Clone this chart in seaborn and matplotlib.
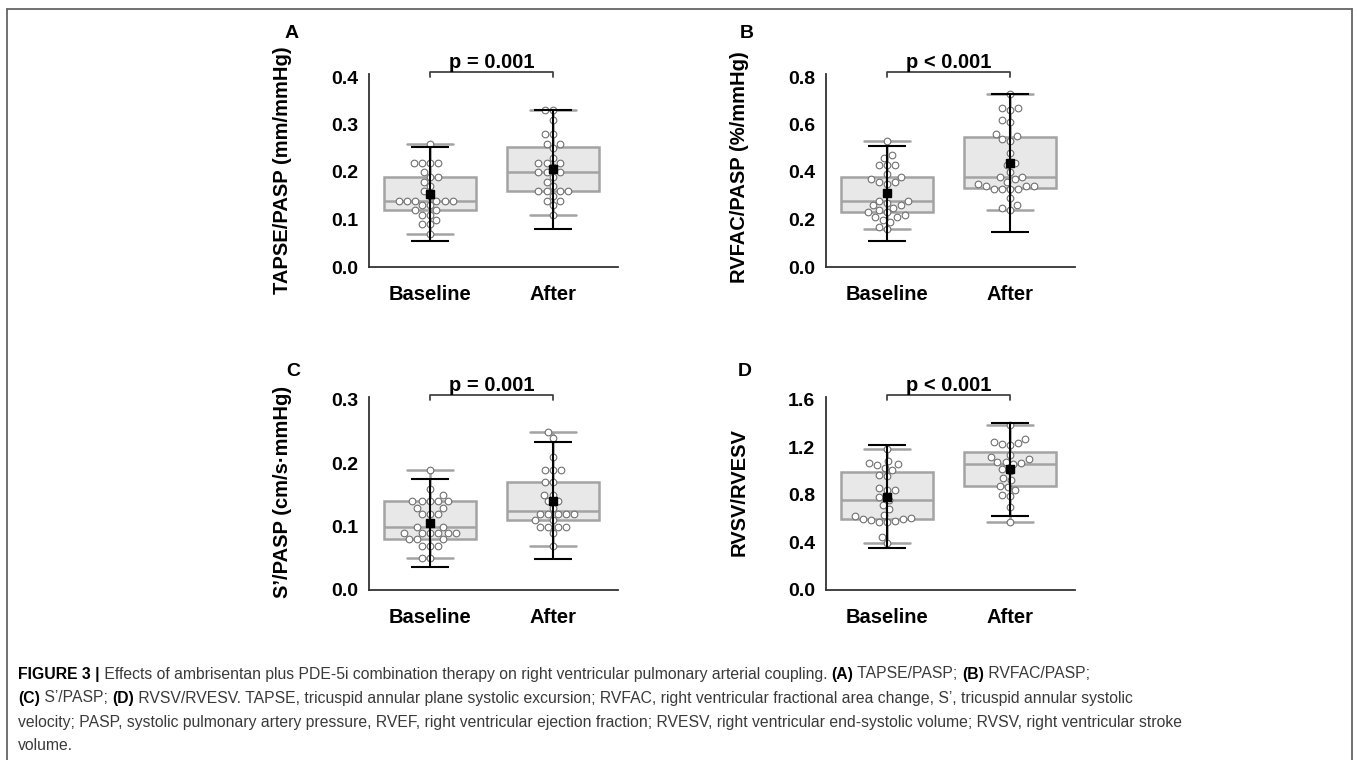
import numpy as np
import pandas as pd
import seaborn as sns
import matplotlib.pyplot as plt
import matplotlib.transforms as mtransforms
from matplotlib.lines import Line2D

sns.set_style('white')
plt.rcParams['font.family'] = ['Liberation Sans', 'DejaVu Sans']
plt.rcParams['text.color'] = 'black'
plt.rcParams['axes.labelcolor'] = 'black'
plt.rcParams['xtick.color'] = 'black'
plt.rcParams['ytick.color'] = 'black'

W, H = 1357, 760
groups = ['Baseline', 'After']

# values
tapse_base = [0.07, 0.09, 0.09, 0.10, 0.11, 0.11, 0.12, 0.12, 0.13, 0.13, 0.14, 0.14, 0.14, 0.14,
              0.14, 0.14, 0.15, 0.16, 0.17, 0.18, 0.19, 0.19, 0.20, 0.22, 0.22, 0.22, 0.22, 0.26]
tapse_after = [0.11, 0.13, 0.14, 0.14, 0.15, 0.16, 0.16, 0.16, 0.16, 0.17, 0.18, 0.19, 0.20, 0.20,
               0.20, 0.21, 0.22, 0.22, 0.22, 0.23, 0.25, 0.26, 0.26, 0.28, 0.28, 0.31, 0.33, 0.33]
tapse_mean = [0.153, 0.206]
tapse_err = [0.099, 0.125]

rvfac_base = [0.16, 0.17, 0.19, 0.20, 0.21, 0.21, 0.22, 0.23, 0.23, 0.24, 0.25, 0.26, 0.26, 0.27, 0.28,
              0.28, 0.31, 0.35, 0.36, 0.36, 0.37, 0.38, 0.39, 0.43, 0.43, 0.43, 0.46, 0.47, 0.53]
rvfac_after = [0.24, 0.25, 0.26, 0.29, 0.33, 0.33, 0.33, 0.33, 0.34, 0.34, 0.34, 0.35, 0.36, 0.37, 0.38,
               0.38, 0.40, 0.43, 0.44, 0.48, 0.53, 0.54, 0.55, 0.56, 0.61, 0.62, 0.66, 0.67, 0.67, 0.73]
rvfac_mean = [0.310, 0.438]
rvfac_err = [0.200, 0.292]

s_base = [0.05, 0.05, 0.07, 0.07, 0.07, 0.08, 0.08, 0.08, 0.09, 0.09, 0.09, 0.09, 0.09, 0.09, 0.10,
          0.10, 0.12, 0.12, 0.12, 0.13, 0.13, 0.14, 0.14, 0.14, 0.14, 0.14, 0.15, 0.16, 0.19]
s_after = [0.07, 0.09, 0.10, 0.10, 0.10, 0.10, 0.11, 0.11, 0.12, 0.12, 0.12, 0.12, 0.12, 0.13,
           0.14, 0.14, 0.15, 0.15, 0.17, 0.17, 0.19, 0.19, 0.19, 0.21, 0.24, 0.25]
s_mean = [0.106, 0.141]
s_err = [0.070, 0.092]

rvsv_base = [0.40, 0.45, 0.57, 0.57, 0.58, 0.59, 0.60, 0.60, 0.61, 0.62, 0.63, 0.68, 0.72, 0.76,
             0.78, 0.84, 0.84, 0.86, 0.96, 0.97, 1.01, 1.03, 1.05, 1.06, 1.07, 1.09, 1.19]
rvsv_after = [0.57, 0.70, 0.79, 0.80, 0.84, 0.87, 0.88, 0.93, 0.94, 1.00, 1.02, 1.06, 1.07, 1.08,
              1.08, 1.10, 1.12, 1.14, 1.22, 1.23, 1.24, 1.25, 1.27, 1.39]
rvsv_mean = [0.786, 1.016]
rvsv_err = [0.433, 0.390]

fig = plt.figure(figsize=(W / 100, H / 100), dpi=100)
fig.patch.set_facecolor('white')


def panel(left_px, zero_px, base, after, means, errs, ymax, yticks, ylabel, lab_y, ptext):
    ax = fig.add_axes([left_px / W, 1 - zero_px / H, 249 / W, 193 / H])
    df = pd.DataFrame({'group': [groups[0]] * len(base) + [groups[1]] * len(after),
                       'value': base + after})
    sns.boxplot(data=df, x='group', y='value', ax=ax, whis=(0, 100), width=0.75,
                color='#e8e8e8', linecolor='#a3a3a3', linewidth=1.8, showfliers=False)
    sns.swarmplot(data=df, x='group', y='value', ax=ax, color='white', edgecolor='#707070',
                  linewidth=0.8, size=4.8, zorder=3)
    ax.errorbar(groups, means, yerr=errs, fmt='s', color='black', ms=5.5, capsize=14,
                elinewidth=1.5, capthick=1.5, zorder=5)

    ax.set_xlim(-0.496, 1.528)
    ax.set_ylim(0, ymax * 193 / 190)
    ax.set_yticks(yticks)
    ax.set_yticklabels(['%.1f' % t for t in yticks])
    ax.set_xlabel('')
    ax.set_ylabel(ylabel, fontsize=14.5, fontweight='bold')
    ax.yaxis.set_label_coords(-0.31, lab_y)
    for s in ['top', 'right']:
        ax.spines[s].set_visible(False)
    for s in ['left', 'bottom']:
        ax.spines[s].set_color('#333333')
        ax.spines[s].set_linewidth(1.3)
    ax.tick_params(axis='y', direction='out', length=5, width=1.2, color='#333333',
                   labelsize=14, pad=3)
    ax.tick_params(axis='x', direction='out', length=6, width=1.2, color='#333333',
                   labelsize=14.5, pad=7)
    for t in ax.get_xticklabels() + ax.get_yticklabels():
        t.set_fontweight('bold')

    # significance bracket
    tr = mtransforms.blended_transform_factory(ax.transData, ax.transAxes)
    ax.plot(['Baseline', 'Baseline', 'After', 'After'], [0.984, 1.012, 1.012, 0.984],
            color='#444444', lw=1.3, transform=tr, clip_on=False)
    ax.text(0.5, 1.058, ptext, transform=tr, ha='center', va='center',
            fontsize=14.5, fontweight='bold')
    return ax


panel(369, 267, tapse_base, tapse_after, tapse_mean, tapse_err, 0.4,
      [0, 0.1, 0.2, 0.3, 0.4], 'TAPSE/PASP (mm/mmHg)', 0.50, 'p = 0.001')
panel(826, 267, rvfac_base, rvfac_after, rvfac_mean, rvfac_err, 0.8,
      [0, 0.2, 0.4, 0.6, 0.8], 'RVFAC/PASP (%/mmHg)', 0.52, 'p < 0.001')
panel(369, 590, s_base, s_after, s_mean, s_err, 0.3,
      [0, 0.1, 0.2, 0.3], 'S’/PASP (cm/s·mmHg)', 0.51, 'p = 0.001')
panel(826, 590, rvsv_base, rvsv_after, rvsv_mean, rvsv_err, 1.6,
      [0, 0.4, 0.8, 1.2, 1.6], 'RVSV/RVESV', 0.51, 'p < 0.001')

for letter, x, y in [('A', 292, 33), ('B', 747, 34), ('C', 293, 372), ('D', 745, 372)]:
    fig.text(x / W, 1 - y / H, letter, ha='center', va='center', fontsize=14, fontweight='bold')

# caption with bold pieces
caption = [
    [('FIGURE 3 |', True), (' Effects of ambrisentan plus PDE-5i combination therapy on right ventricular '
                            'pulmonary arterial coupling. ', False), ('(A)', True), (' TAPSE/PASP; ', False),
     ('(B)', True), (' RVFAC/PASP;', False)],
    [('(C)', True), (' S’/PASP; ', False), ('(D)', True),
     (' RVSV/RVESV. TAPSE, tricuspid annular plane systolic excursion; RVFAC, right ventricular '
      'fractional area change, S’, tricuspid annular systolic', False)],
    [('velocity; PASP, systolic pulmonary artery pressure, RVEF, right ventricular ejection fraction; '
      'RVESV, right ventricular end-systolic volume; RVSV, right ventricular stroke', False)],
    [('volume.', False)],
]
renderer = fig.canvas.get_renderer()
for i, line in enumerate(caption):
    x = 18
    y = 674 + i * 24
    for txt, bold in line:
        t = fig.text(x / W, 1 - y / H, txt, ha='left', va='center', fontsize=11.3,
                     fontweight='bold' if bold else 'normal',
                     color='black' if bold else '#3a3a3a')
        x += t.get_window_extent(renderer).width

# open frame: top, left and right edges only
for xs, ys in [([7, 1352], [9, 9]), ([7, 7], [9, 760]), ([1352, 1352], [9, 760])]:
    fig.add_artist(Line2D([v / W for v in xs], [1 - v / H for v in ys], transform=fig.transFigure,
                          color='#666666', lw=1.3))

fig.savefig('out.png', dpi=100)
